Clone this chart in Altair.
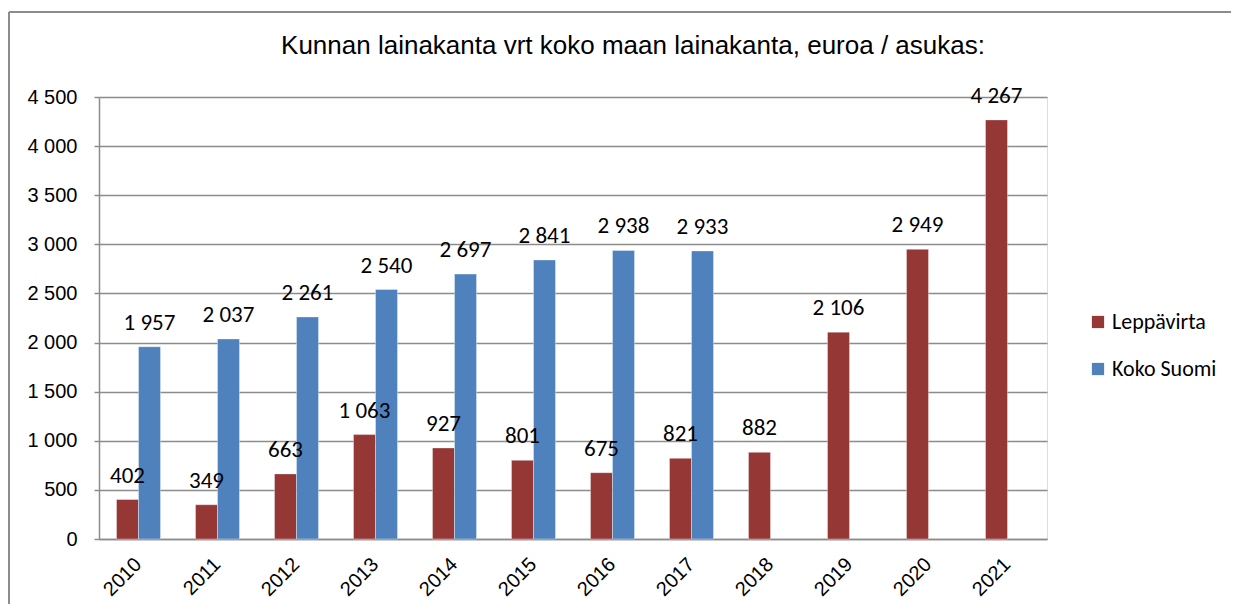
import altair as alt
import pandas as pd

years = ["2010", "2011", "2012", "2013", "2014", "2015", "2016", "2017",
         "2018", "2019", "2020", "2021"]
leppavirta = [402, 349, 663, 1063, 927, 801, 675, 821, 882, 2106, 2949, 4267]
koko_years = ["2010", "2011", "2012", "2013", "2014", "2015", "2016", "2017"]
koko_suomi = [1957, 2037, 2261, 2540, 2697, 2841, 2938, 2933]
series = ["Leppävirta", "Koko Suomi"]
colors = ["#953735", "#4F81BD"]

rows = [{"year": y, "series": series[0], "value": v} for y, v in zip(years, leppavirta)]
rows += [{"year": y, "series": series[1], "value": v} for y, v in zip(koko_years, koko_suomi)]
df = pd.DataFrame(rows)

NARROW = "Liberation Sans Narrow, Arial Narrow, Liberation Sans"
CAL = "Carlito, Lato, Open Sans"
GRID = "#8c8c8c"

x_enc = alt.X("year:N", sort=years, title=None,
              scale=alt.Scale(paddingInner=0.443, paddingOuter=0.2215),
              axis=alt.Axis(labelAngle=-45, labelAlign="right", labelBaseline="middle",
                            labelFont=NARROW, labelFontSize=20, labelColor="#000000",
                            labelPadding=22, ticks=False, domainColor=GRID,
                            domainWidth=1.5, grid=False))
y_enc = alt.Y("value:Q", title=None,
              scale=alt.Scale(domain=[0, 4500], nice=False),
              axis=alt.Axis(values=list(range(0, 4501, 500)),
                            labelExpr="replace(format(datum.value, ','), ',', ' ')",
                            labelFont=NARROW, labelFontSize=20, labelColor="#000000",
                            labelPadding=17, tickSize=5, tickColor=GRID, tickWidth=1.5,
                            domainColor=GRID, domainWidth=1.5, gridColor=GRID,
                            gridWidth=1.5, gridOpacity=1))
off_enc = alt.XOffset("series:N", sort=series,
                      scale=alt.Scale(domain=series, paddingInner=0, paddingOuter=0))
color_enc = alt.Color("series:N", sort=series,
                      scale=alt.Scale(domain=series, range=colors),
                      legend=alt.Legend(title=None, orient="none", legendX=988, legendY=214,
                                        symbolType="square", symbolSize=150,
                                        symbolStrokeWidth=0, labelFont=CAL,
                                        labelFontSize=22, labelColor="#000000",
                                        rowPadding=25, labelOffset=3))

bars = alt.Chart(df).mark_bar(stroke="#ffffff", strokeWidth=0.6, strokeOpacity=0.6).encode(
    x=x_enc, y=y_enc, xOffset=off_enc, color=color_enc
)

labels = alt.Chart(df).transform_calculate(
    lab="replace(format(datum.value, ','), ',', ' ')"
).mark_text(font=CAL, fontSize=23, baseline="bottom", dy=-12, color="#000000").encode(
    x=alt.X("year:N", sort=years), y="value:Q", xOffset=alt.XOffset("series:N", sort=series),
    text="lab:N"
)

frame_top = alt.Chart(df).mark_rule(color="#8c8c8c", strokeWidth=2).encode(
    x=alt.value(-90), x2=alt.value(1140), y=alt.value(-85)
)
frame_left = alt.Chart(df).mark_rule(color="#8c8c8c", strokeWidth=2).encode(
    x=alt.value(-90), y=alt.value(-85), y2=alt.value(520)
)

chart = alt.layer(frame_top, frame_left, bars, labels).properties(
    width=948, height=442,
    autosize=alt.AutoSizeParams(type="none"),
    padding={"left": 91, "top": 89, "right": 184, "bottom": 65},
    title=alt.TitleParams("Kunnan lainakanta vrt koko maan lainakanta, euroa / asukas:",
                          font=NARROW, fontSize=26, fontWeight="normal", color="#000000",
                          anchor="middle", frame="group", dx=60, offset=0, dy=48)
).configure_view(stroke=None).configure(background="white")

chart.save("out.html", embed_options={"renderer": "svg", "actions": False})
